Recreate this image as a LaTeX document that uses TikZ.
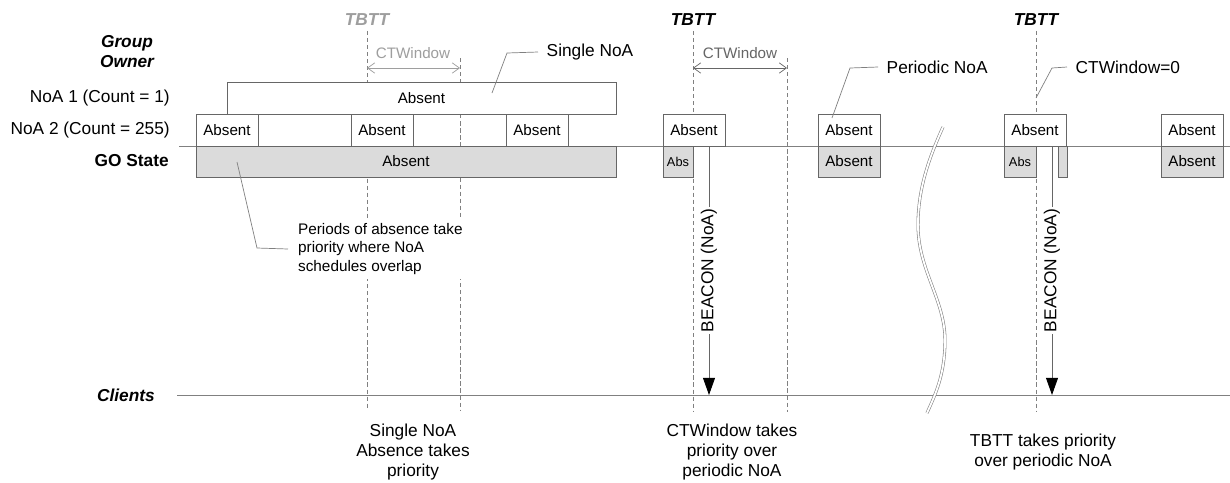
\documentclass[tikz,border=0pt]{standalone}
\usepackage{fontspec}
\setmainfont{Liberation Sans}
\usetikzlibrary{arrows.meta}

\definecolor{edgegray}{gray}{0.40}
\definecolor{linegray}{gray}{0.50}
\definecolor{fillgray}{gray}{0.86}
\definecolor{softgray}{gray}{0.62}
\definecolor{midgray}{gray}{0.40}

\tikzset{
  big/.style={font=\fontsize{12.3}{14.2}\selectfont},
  small/.style={font=\fontsize{10.8}{13.2}\selectfont},
  tiny/.style={font=\fontsize{9.1}{11}\selectfont},
  heading/.style={font=\fontsize{12.3}{14.2}\selectfont\bfseries\itshape},
  slot/.style={draw=edgegray, line width=0.5pt, fill=white, inner sep=0pt,
    minimum height=0.8cm, small},
  goslot/.style={slot, fill=fillgray, minimum height=0.775cm},
  guide/.style={linegray, line width=0.4pt, dash pattern=on 3pt off 2pt},
  leader/.style={linegray, line width=0.5pt},
  rowline/.style={linegray, line width=0.6pt},
  callout/.style={big, anchor=west, inner xsep=6pt},
  window/.style={line width=0.5pt,
    {Straight Barb[length=1.8mm,width=2.6mm]}-{Straight Barb[length=1.8mm,width=2.6mm]}},
  beacon/.style={midgray, line width=0.6pt,
    -{Triangle[length=4.3mm,width=3mm,color=black]}}
}

\begin{document}
\begin{tikzpicture}[x=0.025cm, y=-0.025cm]
  \fill[white] (0,0) rectangle (1230,482); % page
  \useasboundingbox (0,0) rectangle (1230,482);

  % TBTT marks
  \node[heading, text=softgray] (tbttA) at (367,20) {TBTT};
  \node[heading] (tbttB) at (693,20) {TBTT};
  \node[heading] (tbttC) at (1036,20) {TBTT};
  \draw[guide] (tbttA.south) -- (367,410);
  \draw[guide] (460,58) -- (460,411);
  \draw[guide] (tbttB.south) -- (693,412);
  \draw[guide] (787,58) -- (787,412);
  \draw[guide] (tbttC.south) -- (1036,412);

  % CTWindow spans
  \node[small, text=softgray] (cwTextA) at (413,53) {CTWindow};
  \coordinate (cwA1) at (367,68);
  \coordinate (cwA2) at (460,68);
  \draw[window, softgray] (cwA1) -- (cwA2);
  \node[small, text=midgray] (cwTextB) at (740,53) {CTWindow};
  \coordinate (cwB1) at (693,68);
  \coordinate (cwB2) at (787,68);
  \draw[window, midgray] (cwB1) -- (cwB2);

  % row labels
  \node[heading, align=center] (lblOwner) at (127,52) {Group\\Owner};
  \node[big, anchor=east, inner sep=0pt] (lblNoaOne) at (170,98) {NoA 1 (Count = 1)};
  \node[big, anchor=east, inner sep=0pt] (lblNoaTwo) at (170,130) {NoA 2 (Count = 255)};
  \node[big, anchor=east, inner sep=0pt, font=\fontsize{12.3}{14.2}\selectfont\bfseries] (lblGo) at (169,161) {GO State};
  \node[heading, anchor=east, inner sep=0pt] (lblClients) at (155,395) {Clients};

  % time lines
  \draw[rowline] (179,146) -- (1230,146); % GO
  \draw[rowline] (177,395) -- (1230,395); % clients

  % NoA 1
  \node[slot, minimum width=9.725cm] (noaOne) at (421.5,98) {Absent};

  % NoA 2
  \node[slot, minimum width=1.55cm] (noaTwoA) at (227,130) {Absent};
  \node[slot, minimum width=2.325cm, fill=none] (noaTwoGapA) at (304.5,130) {};
  \node[slot, minimum width=1.55cm] (noaTwoB) at (382,130) {Absent};
  \node[slot, minimum width=2.325cm, fill=none] (noaTwoGapB) at (459.5,130) {};
  \node[slot, minimum width=1.55cm] (noaTwoC) at (537,130) {Absent};
  \node[slot, minimum width=1.55cm] (noaTwoD) at (694,130) {Absent};
  \node[slot, minimum width=1.55cm] (noaTwoE) at (849,130) {Absent};
  \node[slot, minimum width=1.55cm] (noaTwoF) at (1035,130) {Absent};
  \node[slot, minimum width=1.55cm] (noaTwoG) at (1192,130) {Absent};

  % GO state
  \node[goslot, minimum width=10.5cm] (goA) at (406,161.5) {Absent};
  \node[goslot, minimum width=0.75cm, tiny] (goB) at (678,161.5) {Abs};
  \node[goslot, minimum width=1.55cm] (goC) at (849,161.5) {Absent};
  \node[goslot, minimum width=0.8cm, tiny] (goD) at (1020,161.5) {Abs};
  \node[goslot, minimum width=0.225cm] (goE) at (1062.5,161.5) {};
  \node[goslot, minimum width=1.55cm] (goF) at (1192,161.5) {Absent};

  % callouts
  \node[callout] (singleNoa) at (538,52) {Single NoA};
  \coordinate (singleTip) at (492,93);
  \draw[leader] (singleTip) -- (507,53) -- (singleNoa.west);
  \node[callout] (periodicNoa) at (878,67) {Periodic NoA};
  \coordinate (periodicTip) at (832,118);
  \draw[leader] (periodicTip) -- (850,68) -- (periodicNoa.west);
  \node[callout] (zeroWindow) at (1067,67) {CTWindow=0};
  \coordinate (zeroTip) at (1036,98);
  \draw[leader] (zeroTip) -- (1052,68) -- (zeroWindow.west);
  \node[small, anchor=west, align=left, fill=white, inner xsep=7pt,
    font=\fontsize{10.9}{13.2}\selectfont] (overlapNote) at (288,249)
    {Periods of absence take\\priority where NoA\\schedules overlap};
  \coordinate (overlapTip) at (237,162);
  \draw[leader] (overlapTip) -- (257,248) -- (overlapNote.west);

  % beacons
  \coordinate (beaconA) at (709,146);
  \coordinate (hitA) at (709,395);
  \draw[beacon] (beaconA) -- node[big, text=black, fill=white, rotate=90, inner sep=1.5pt] (beaconLblA) {BEACON (NoA)} (hitA);
  \coordinate (beaconB) at (1052,146);
  \coordinate (hitB) at (1052,395);
  \draw[beacon] (beaconB) -- node[big, text=black, fill=white, rotate=90, inner sep=1.5pt] (beaconLblB) {BEACON (NoA)} (hitB);

  % time break
  \draw[linegray, line width=0.4pt, double=white, double distance=1.3pt]
    (943,127) .. controls (928,160) and (918,190) .. (918,225)
    .. controls (918,270) and (945,300) .. (945,340)
    .. controls (945,375) and (935,395) .. (927,413);

  % notes below
  \node[big, align=center] (noteSingle) at (413,452) {Single NoA\\Absence takes\\priority};
  \node[big, align=center] (noteWindow) at (732,452) {CTWindow takes\\priority over\\periodic NoA};
  \node[big, align=center] (noteTbtt) at (1043,452) {TBTT takes priority\\over periodic NoA};
\end{tikzpicture}
\end{document}
